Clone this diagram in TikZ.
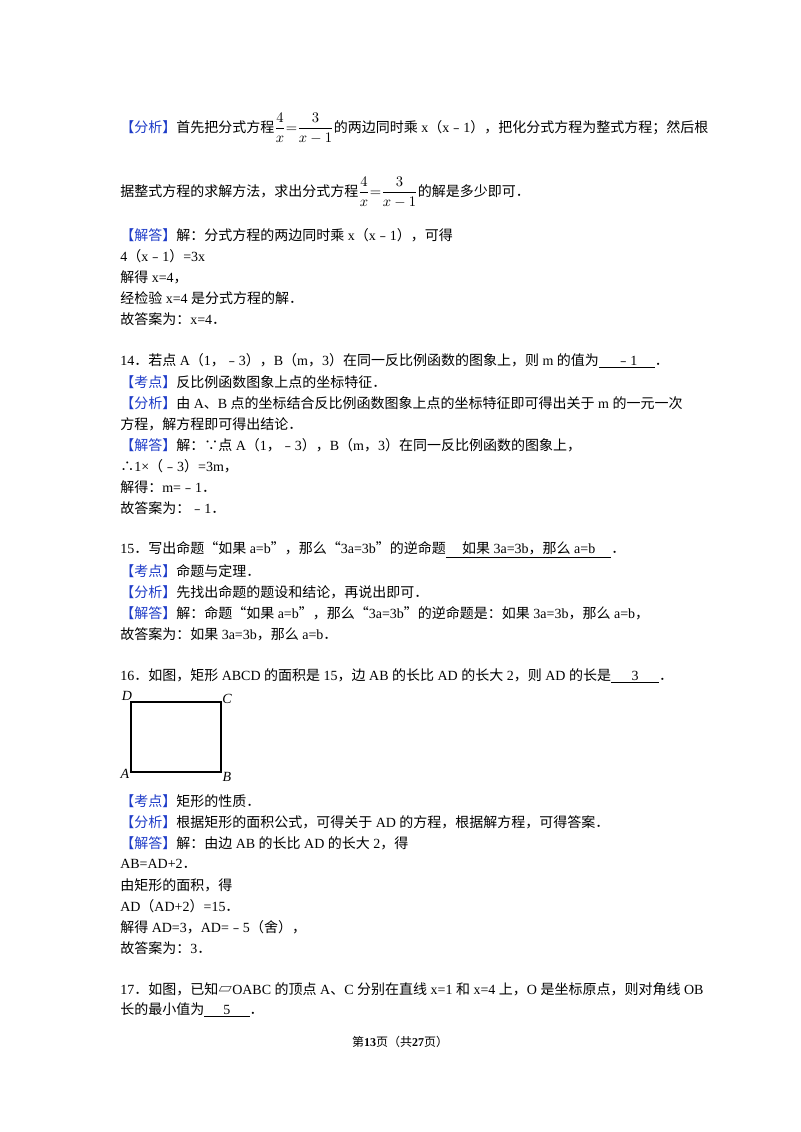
\documentclass[tikz,border=0pt]{standalone}
\usepackage{amsmath}
\usepackage{fontspec}
\setmainfont{Liberation Serif}
\newfontfamily\cjk{Noto Sans CJK SC}
\XeTeXinterchartokenstate=1
\newXeTeXintercharclass\CJKcls
\newcount\cc
\def\setrange#1#2{\cc=#1 \loop \XeTeXcharclass\cc=\CJKcls \advance\cc 1 \ifnum\cc<#2 \repeat}
\setrange{"4E00}{"A000}
\setrange{"3000}{"3040}
\setrange{"FF00}{"FFF0}
\setrange{"FE30}{"FE70}
\XeTeXcharclass"201C=\CJKcls
\XeTeXcharclass"201D=\CJKcls
\XeTeXcharclass"2234=\CJKcls
\XeTeXcharclass"2235=\CJKcls
\XeTeXcharclass"25B1=\CJKcls
\XeTeXinterchartoks 0 \CJKcls = {\begingroup\cjk}
\XeTeXinterchartoks 4095 \CJKcls = {\begingroup\cjk}
\XeTeXinterchartoks \CJKcls 0 = {\endgroup}
\XeTeXinterchartoks \CJKcls 4095 = {\endgroup}
\definecolor{tag}{RGB}{30,60,200}
\newcommand{\tg}[1]{\textcolor{tag}{#1}}
\newcommand{\blk}[2]{\underline{\makebox[#1]{#2}}}
\begin{document}
\begin{tikzpicture}[x=0.75pt,y=-0.75pt,
  ln/.style={anchor=west,inner sep=0pt,font=\fontsize{10.5}{12}\selectfont},
  lbl/.style={inner sep=0pt,font=\fontsize{10.5}{12}\selectfont\itshape}]
\useasboundingbox[fill=white] (0,0) rectangle (800,1132);
\node[ln] (l1) at (120,128) {\tg{【分析】}首先把分式方程$\dfrac{4}{x}{=}\dfrac{3}{x-1}$的两边同时乘 x（x﹣1），把化分式方程为整式方程；然后根};
\node[ln] (l2) at (120,192) {据整式方程的求解方法，求出分式方程$\dfrac{4}{x}{=}\dfrac{3}{x-1}$的解是多少即可．};
\node[ln] (l3) at (120,235) {\tg{【解答】}解：分式方程的两边同时乘 x（x﹣1），可得};
\node[ln] (l4) at (120,256) {4（x﹣1）=3x};
\node[ln] (l5) at (120,277) {解得 x=4，};
\node[ln] (l6) at (120,298) {经检验 x=4 是分式方程的解．};
\node[ln] (l7) at (120,319) {故答案为：x=4．};
\node[ln] (m1) at (120,361) {14．若点 A（1，﹣3），B（m，3）在同一反比例函数的图象上，则 m 的值为\blk{42pt}{﹣1}．};
\node[ln] (m2) at (120,382) {\tg{【考点】}反比例函数图象上点的坐标特征．};
\node[ln] (m3) at (120,403) {\tg{【分析】}由 A、B 点的坐标结合反比例函数图象上点的坐标特征即可得出关于 m 的一元一次};
\node[ln] (m4) at (120,424) {方程，解方程即可得出结论．};
\node[ln] (m5) at (120,445) {\tg{【解答】}解：∵点 A（1，﹣3），B（m，3）在同一反比例函数的图象上，};
\node[ln] (m6) at (120,466) {∴1×（﹣3）=3m，};
\node[ln] (m7) at (120,487) {解得：m=﹣1．};
\node[ln] (m8) at (120,508) {故答案为：﹣1．};
\node[ln] (n1) at (120,550) {15．写出命题“如果 a=b”，那么“3a=3b”的逆命题\blk{124pt}{如果 3a=3b，那么 a=b}．};
\node[ln] (n2) at (120,571) {\tg{【考点】}命题与定理．};
\node[ln] (n3) at (120,592) {\tg{【分析】}先找出命题的题设和结论，再说出即可．};
\node[ln] (n4) at (120,613) {\tg{【解答】}解：命题“如果 a=b”，那么“3a=3b”的逆命题是：如果 3a=3b，那么 a=b，};
\node[ln] (n5) at (120,634) {故答案为：如果 3a=3b，那么 a=b．};
\node[ln] (p1) at (120,676) {16．如图，矩形 ABCD 的面积是 15，边 AB 的长比 AD 的长大 2，则 AD 的长是\blk{36pt}{3}．};
\coordinate (A) at (131,772); \coordinate (B) at (221,772);
\coordinate (C) at (221,702); \coordinate (D) at (131,702);
\draw[line width=0.8pt] (A) -- (B) -- (C) -- (D) -- cycle;
\node[lbl] (la) at (125,774) {A};
\node[lbl] (lb) at (227,777) {B};
\node[lbl] (lc) at (227,699) {C};
\node[lbl] (ld) at (127,696) {D};
\node[ln] (p2) at (120,801) {\tg{【考点】}矩形的性质．};
\node[ln] (p3) at (120,822) {\tg{【分析】}根据矩形的面积公式，可得关于 AD 的方程，根据解方程，可得答案．};
\node[ln] (p4) at (120,843) {\tg{【解答】}解：由边 AB 的长比 AD 的长大 2，得};
\node[ln] (p5) at (120,864) {AB=AD+2．};
\node[ln] (p6) at (120,885) {由矩形的面积，得};
\node[ln] (p7) at (120,906) {AD（AD+2）=15．};
\node[ln] (p8) at (120,927) {解得 AD=3，AD=﹣5（舍），};
\node[ln] (p9) at (120,948) {故答案为：3．};
\node[ln] (q1) at (120,989) {17．如图，已知▱OABC 的顶点 A、C 分别在直线 x=1 和 x=4 上，O 是坐标原点，则对角线 OB};
\node[ln] (q2) at (120,1010) {长的最小值为\blk{34pt}{5}．};
\node[inner sep=0pt,font=\fontsize{9}{10}\selectfont] (pg) at (400,1042) {第\textbf{13}页（共\textbf{27}页）};
\end{tikzpicture}
\end{document}
